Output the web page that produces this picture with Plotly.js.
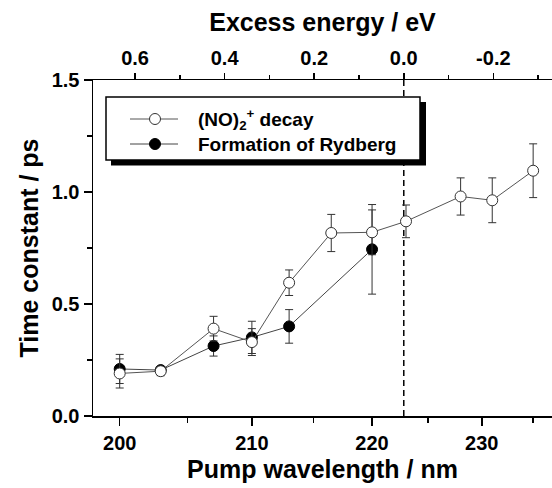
<!DOCTYPE html>
<html>
<head>
<meta charset="utf-8">
<script src="https://cdn.plot.ly/plotly-3.0.1.min.js"></script>
<style>html,body{margin:0;padding:0;background:#fff;}#chart{width:552px;height:488px;}</style>
</head>
<body>
<div id="chart"></div>
<script>
// ---- data ----
const wavelengthTicks = [200, 210, 220, 230];
const wavelengthMinorTicks = [205, 215, 225, 235];
const energyTicks = [0.6, 0.4, 0.2, 0.0, -0.2];
const energyTickText = ['0.6', '0.4', '0.2', '0.0', '-0.2'];
const energyMinorTicks = [0.5, 0.3, 0.1, -0.1, -0.3];
const yTicks = [0, 0.5, 1.0, 1.5];
const yTickText = ['0.0', '0.5', '1.0', '1.5'];
const yMinorTicks = [0.25, 0.75, 1.25];

const seriesNames = ['(NO)<sub>2</sub><sup>+</sup> decay', 'Formation of Rydberg'];

const decayWavelength = [200, 203, 207, 210, 213, 216.5, 220, 223, 228, 231, 235];
const decayTau        = [0.19, 0.20, 0.39, 0.33, 0.595, 0.817, 0.82, 0.869, 0.98, 0.963, 1.095];
const decayErr        = [0.065, 0.02, 0.055, 0.06, 0.057, 0.083, 0.10, 0.073, 0.083, 0.10, 0.12];

const rydbergWavelength = [200, 203, 207, 210, 213, 220];
const rydbergTau        = [0.21, 0.205, 0.3125, 0.351, 0.40, 0.744];
const rydbergErr        = [0.065, 0.015, 0.045, 0.072, 0.075, 0.20];

const thresholdWavelength = 222.8;   // excess energy = 0 (dashed line)

// ---- conversion wavelength (nm) -> excess energy (eV) ----
const HC = 1239.84;
const E0 = HC / thresholdWavelength;
const toExcess = wl => HC / wl - E0;

const xRange = [0.694, -0.331];
const FONT = 'Liberation Sans, Arial, sans-serif';

// plot area in pixels (for the hand-drawn legend box)
const M = {l: 93, r: 0, t: 80, b: 72};
const W = 552, H = 488;
const PW = W - M.l - M.r, PH = H - M.t - M.b;
const px = x => (x - M.l) / PW;
const py = y => (H - M.b - y) / PH;

const decayStyle = {line: '#555', fill: '#fff', edge: '#333'};
const rydbergStyle = {line: '#444', fill: '#000', edge: '#000'};

const traces = [
  {
    x: rydbergWavelength.map(toExcess), y: rydbergTau,
    xaxis: 'x', yaxis: 'y',
    name: seriesNames[1], showlegend: false,
    mode: 'lines+markers', type: 'scatter',
    line: {color: rydbergStyle.line, width: 1},
    marker: {symbol: 'circle', size: 11, color: rydbergStyle.fill, line: {color: rydbergStyle.edge, width: 1}},
    error_y: {type: 'data', array: rydbergErr, visible: true, color: '#333', thickness: 1, width: 4}
  },
  {
    x: decayWavelength.map(toExcess), y: decayTau,
    xaxis: 'x2', yaxis: 'y',
    name: seriesNames[0], showlegend: false,
    mode: 'lines+markers', type: 'scatter',
    line: {color: decayStyle.line, width: 1},
    marker: {symbol: 'circle', size: 11, color: decayStyle.fill, line: {color: decayStyle.edge, width: 1}},
    error_y: {type: 'data', array: decayErr, visible: true, color: '#333', thickness: 1, width: 4}
  }
];

const tickFont = {family: FONT, size: 20, color: '#000', weight: 'bold'};
const titleFont = {family: FONT, size: 25, color: '#000', weight: 'bold'};
const legendFont = {family: FONT, size: 19, color: '#000', weight: 'bold'};

// legend (box with drop shadow, samples and labels)
const legendRows = [119, 144];
const legendStyles = [decayStyle, rydbergStyle];
const legendShapes = [
  {type: 'rect', xref: 'paper', yref: 'paper', x0: px(111), x1: px(426), y0: py(165.5), y1: py(102),
   fillcolor: '#000', line: {width: 0}, layer: 'above'},
  {type: 'rect', xref: 'paper', yref: 'paper', x0: px(106), x1: px(420), y0: py(160), y1: py(97),
   fillcolor: '#fff', line: {color: '#000', width: 1.5}, layer: 'above'}
];
legendRows.forEach((yy, i) => {
  const s = legendStyles[i];
  legendShapes.push({type: 'line', xref: 'paper', yref: 'paper', x0: px(130), x1: px(178), y0: py(yy), y1: py(yy),
    line: {color: s.line, width: 1}, layer: 'above'});
  legendShapes.push({type: 'circle', xref: 'paper', yref: 'paper', xsizemode: 'pixel', ysizemode: 'pixel',
    xanchor: px(155), yanchor: py(yy), x0: -5.5, x1: 5.5, y0: -5.5, y1: 5.5,
    fillcolor: s.fill, line: {color: s.edge, width: 1}, layer: 'above'});
});
const legendAnnotations = legendRows.map((yy, i) => ({
  xref: 'paper', yref: 'paper', x: px(196), y: py(yy), xanchor: 'left', yanchor: 'middle',
  text: seriesNames[i], showarrow: false, font: legendFont
}));

const layout = {
  width: W, height: H,
  margin: M,
  paper_bgcolor: '#fff', plot_bgcolor: '#fff',
  showlegend: false,
  xaxis: {
    range: xRange, showgrid: false, zeroline: false,
    showline: true, linecolor: '#000', linewidth: 1.5,
    ticks: 'outside', ticklen: 8, tickwidth: 1.5, tickcolor: '#000',
    tickmode: 'array',
    tickvals: wavelengthTicks.map(toExcess),
    ticktext: wavelengthTicks.map(String),
    minor: {tickmode: 'array', tickvals: wavelengthMinorTicks.map(toExcess), ticks: 'outside', ticklen: 5, tickwidth: 1.5, tickcolor: '#000', showgrid: false},
    tickfont: tickFont,
    title: {text: 'Pump wavelength / nm', font: titleFont, standoff: 8},
    automargin: false
  },
  xaxis2: {
    range: xRange, matches: 'x', overlaying: 'x', side: 'top', anchor: 'y',
    showgrid: false, zeroline: false,
    showline: true, linecolor: '#000', linewidth: 1.5,
    ticks: 'outside', ticklen: 6, tickwidth: 1.5, tickcolor: '#000',
    tickmode: 'array', tickvals: energyTicks, ticktext: energyTickText,
    minor: {tickmode: 'array', tickvals: energyMinorTicks, ticks: 'outside', ticklen: 4, tickwidth: 1.5, tickcolor: '#000', showgrid: false},
    tickfont: tickFont,
    title: {text: 'Excess energy / eV', font: titleFont, standoff: 8},
    automargin: false
  },
  yaxis: {
    range: [0, 1.5], showgrid: false, zeroline: false,
    showline: true, linecolor: '#000', linewidth: 1.5,
    ticks: 'outside', ticklen: 8, tickwidth: 1.5, tickcolor: '#000',
    tickmode: 'array', tickvals: yTicks, ticktext: yTickText,
    minor: {tickmode: 'array', tickvals: yMinorTicks, ticks: 'outside', ticklen: 5, tickwidth: 1.5, tickcolor: '#000', showgrid: false},
    tickfont: tickFont,
    title: {text: 'Time constant / ps', font: titleFont, standoff: 6},
    automargin: false
  },
  shapes: [
    {type: 'line', xref: 'x', yref: 'paper', x0: toExcess(thresholdWavelength), x1: toExcess(thresholdWavelength), y0: 0, y1: 1,
     line: {color: '#000', width: 1.5, dash: '6px,4px'}, layer: 'below'}
  ].concat(legendShapes),
  annotations: legendAnnotations
};

Plotly.newPlot('chart', traces, layout, {displayModeBar: false, staticPlot: true});
</script>
</body>
</html>
